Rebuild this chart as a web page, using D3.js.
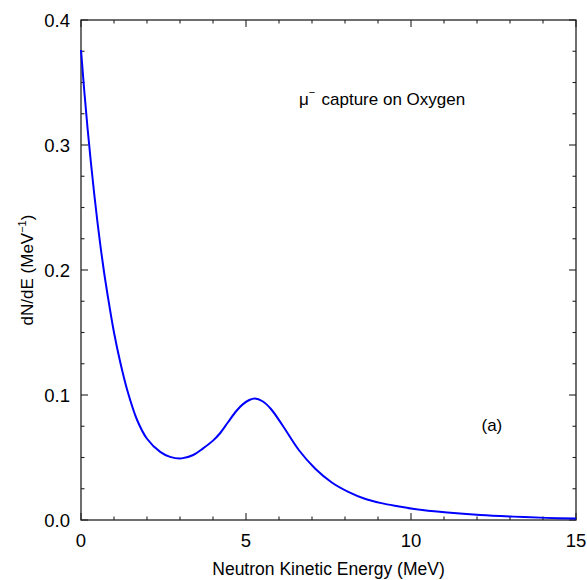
<!DOCTYPE html>
<html>
<head>
<meta charset="utf-8">
<script src="https://cdn.jsdelivr.net/npm/d3@7"></script>
<style>
  body { margin: 0; background: #fff; }
  text { font-family: "Liberation Sans", Arial, sans-serif; fill: #000; }
</style>
</head>
<body>
<script>
// neutron kinetic energy (MeV) and dN/dE (MeV^-1)
var energy = [0, 0.1, 0.2, 0.3, 0.4, 0.5, 0.6, 0.7, 0.8, 1.0, 1.2, 1.4, 1.7, 2.0, 2.4, 2.7, 3.05, 3.4, 3.7, 4.0, 4.2, 4.45, 4.7, 4.9, 5.1, 5.27, 5.5, 5.75, 6.1, 6.6, 7.1, 7.6, 8.1, 8.6, 9.1, 9.6, 10.1, 11.1, 12.1, 13.1, 14.1, 15];
var dNdE = [0.376, 0.343, 0.313, 0.286, 0.261, 0.238, 0.217, 0.198, 0.181, 0.150, 0.125, 0.104, 0.080, 0.065, 0.0545, 0.0505, 0.0493, 0.052, 0.0573, 0.0635, 0.069, 0.078, 0.087, 0.0925, 0.096, 0.0972, 0.095, 0.089, 0.076, 0.056, 0.041, 0.030, 0.0225, 0.017, 0.0135, 0.011, 0.0088, 0.006, 0.004, 0.0027, 0.0017, 0.0012];
var xTicks = [0, 5, 10, 15];
var yTicks = [0.0, 0.1, 0.2, 0.3, 0.4];

var width = 587, height = 580;
var mLeft = 81, mRight = 576, mTop = 20, mBottom = 520;

var x = d3.scaleLinear().domain([0, 15]).range([mLeft, mRight]);
var y = d3.scaleLinear().domain([0, 0.4]).range([mBottom, mTop]);

var svg = d3.select("body").append("svg")
    .attr("width", width)
    .attr("height", height);

var xMinor = d3.range(0, 16, 1);
var yMinor = d3.range(0, 17).map(function(i) { return i * 0.025; });

function isMajorX(d) { return d % 5 == 0; }
function isMajorY(d) { return Math.abs(d * 10 - Math.round(d * 10)) < 1e-6; }

// inward ticks on all four sides
var ticks = svg.append("g").attr("stroke", "#222").attr("stroke-width", 1.1);
[mBottom, mTop].forEach(function(base) {
    var dir = base == mBottom ? -1 : 1;
    ticks.selectAll(null).data(xMinor).enter().append("line")
        .attr("x1", function(d) { return x(d); })
        .attr("x2", function(d) { return x(d); })
        .attr("y1", base)
        .attr("y2", function(d) { return base + dir * (isMajorX(d) ? 7 : 3.5); });
});
[mLeft, mRight].forEach(function(base) {
    var dir = base == mLeft ? 1 : -1;
    ticks.selectAll(null).data(yMinor).enter().append("line")
        .attr("y1", function(d) { return y(d); })
        .attr("y2", function(d) { return y(d); })
        .attr("x1", base)
        .attr("x2", function(d) { return base + dir * (isMajorY(d) ? 7 : 3.5); });
});

// frame
svg.append("rect")
    .attr("x", mLeft).attr("y", mTop)
    .attr("width", mRight - mLeft).attr("height", mBottom - mTop)
    .attr("fill", "none").attr("stroke", "#222").attr("stroke-width", 1.3);

// tick labels
svg.selectAll(".xlab").data(xTicks).enter().append("text")
    .attr("x", function(d) { return x(d); })
    .attr("y", 547)
    .attr("text-anchor", "middle")
    .style("font-size", "18.5px")
    .text(function(d) { return d; });

svg.selectAll(".ylab").data(yTicks).enter().append("text")
    .attr("x", mLeft - 11)
    .attr("y", function(d) { return y(d) + 6.5; })
    .attr("text-anchor", "end")
    .style("font-size", "18.5px")
    .text(function(d) { return d.toFixed(1); });

// axis titles
svg.append("text")
    .attr("x", (mLeft + mRight) / 2)
    .attr("y", 575)
    .attr("text-anchor", "middle")
    .style("font-size", "17.5px")
    .text("Neutron Kinetic Energy (MeV)");

var yt = svg.append("text")
    .attr("transform", "translate(33," + (mTop + mBottom) / 2 + ") rotate(-90)")
    .attr("text-anchor", "middle")
    .style("font-size", "17px");
yt.append("tspan").text("dN/dE (MeV");
yt.append("tspan").attr("dy", -7).style("font-size", "11px").text("\u22121");
yt.append("tspan").attr("dy", 7).text(")");

// annotations
var t = svg.append("text").attr("x", 299).attr("y", 105).style("font-size", "17px");
t.append("tspan").text("\u03bc");
t.append("tspan").attr("dy", -9).style("font-size", "11px").text("\u2212");
t.append("tspan").attr("x", 321.5).attr("dy", 9).text("capture on Oxygen");

svg.append("text")
    .attr("x", 481.5).attr("y", 431)
    .style("font-size", "17px")
    .text("(a)");

// spectrum curve
var pts = energy.map(function(e, i) { return [e, dNdE[i]]; });
var line = d3.line()
    .x(function(d) { return x(d[0]); })
    .y(function(d) { return y(d[1]); })
    .curve(d3.curveCatmullRom.alpha(0.5));

svg.append("path")
    .datum(pts)
    .attr("d", line)
    .attr("fill", "none")
    .attr("stroke", "#0000ff")
    .attr("stroke-width", 2);
</script>
</body>
</html>
